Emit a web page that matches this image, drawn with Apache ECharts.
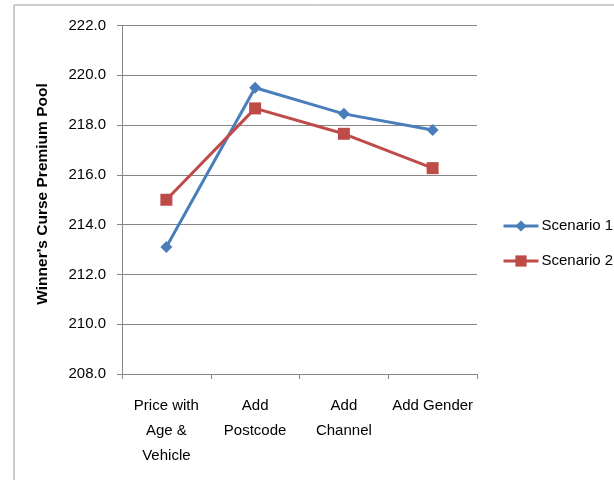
<!DOCTYPE html>
<html>
<head>
<meta charset="utf-8">
<script src="https://cdn.jsdelivr.net/npm/echarts@6/dist/echarts.min.js"></script>
<style>
  html, body { margin: 0; padding: 0; background: #fff; }
  #chart { width: 614px; height: 480px; }
</style>
</head>
<body>
<div id="chart"></div>
<script>
// Premium pool by model refinement step
var categories = ['Price with\nAge &\nVehicle', 'Add\nPostcode', 'Add\nChannel', 'Add Gender'];
var scenario1 = [213.1, 219.5, 218.45, 217.8];
var scenario2 = [215.0, 218.67, 217.65, 216.27];
var yTicks = { min: 208, max: 222, step: 2 };
var seriesNames = ['Scenario 1', 'Scenario 2'];
var yTitle = "Winner's Curse Premium Pool";

var FONT = '"Liberation Sans", Arial, sans-serif';
var chart = echarts.init(document.getElementById('chart'), null, { renderer: 'canvas' });

chart.setOption({
  animation: false,
  backgroundColor: '#ffffff',
  graphic: [{
    type: 'rect',
    shape: { x: 14, y: 5, width: 640, height: 520 },
    style: { fill: 'none', stroke: '#9a9a9a', lineWidth: 1 },
    silent: true
  }, {
    type: 'text',
    x: 43,
    y: 194,
    rotation: Math.PI / 2,
    style: {
      text: yTitle,
      fontFamily: FONT,
      fontSize: 15.5,
      fontWeight: 'bold',
      fill: '#000',
      textAlign: 'center',
      textVerticalAlign: 'middle'
    },
    silent: true
  }],
  grid: { left: 122, right: 137, top: 25.5, bottom: 106, containLabel: false },
  legend: {
    orient: 'vertical',
    left: 497,
    top: 213,
    itemWidth: 35,
    itemHeight: 14,
    itemGap: 19,
    lineStyle: { width: 3 },
    textStyle: { fontFamily: FONT, fontSize: 15, color: '#000', lineHeight: 16, padding: [0, 0, 0, -2] },
    data: seriesNames
  },
  xAxis: {
    type: 'category',
    data: categories,
    boundaryGap: true,
    axisLine: { lineStyle: { color: '#868686', width: 1 } },
    axisTick: { show: true, length: 5, lineStyle: { color: '#868686' } },
    axisLabel: {
      fontFamily: FONT, fontSize: 15, color: '#000',
      lineHeight: 25, margin: 19, interval: 0
    }
  },
  yAxis: {
    type: 'value',
    min: yTicks.min,
    max: yTicks.max,
    interval: yTicks.step,
    axisLine: { show: true, lineStyle: { color: '#868686', width: 1 } },
    axisTick: { show: true, length: 5, lineStyle: { color: '#868686' } },
    axisLabel: {
      fontFamily: FONT, fontSize: 15, color: '#000', margin: 16,
      formatter: function (v) { return v.toFixed(1); }
    },
    splitLine: { lineStyle: { color: '#868686', width: 1 } }
  },
  series: [{
    name: seriesNames[0],
    type: 'line',
    data: scenario1,
    symbol: 'diamond',
    symbolSize: 12,
    itemStyle: { color: '#4A7EBB' },
    lineStyle: { color: '#4A7EBB', width: 3 }
  }, {
    name: seriesNames[1],
    type: 'line',
    data: scenario2,
    symbol: 'rect',
    symbolSize: 12,
    itemStyle: { color: '#BE4B48' },
    lineStyle: { color: '#BE4B48', width: 3 }
  }]
});
</script>
</body>
</html>
